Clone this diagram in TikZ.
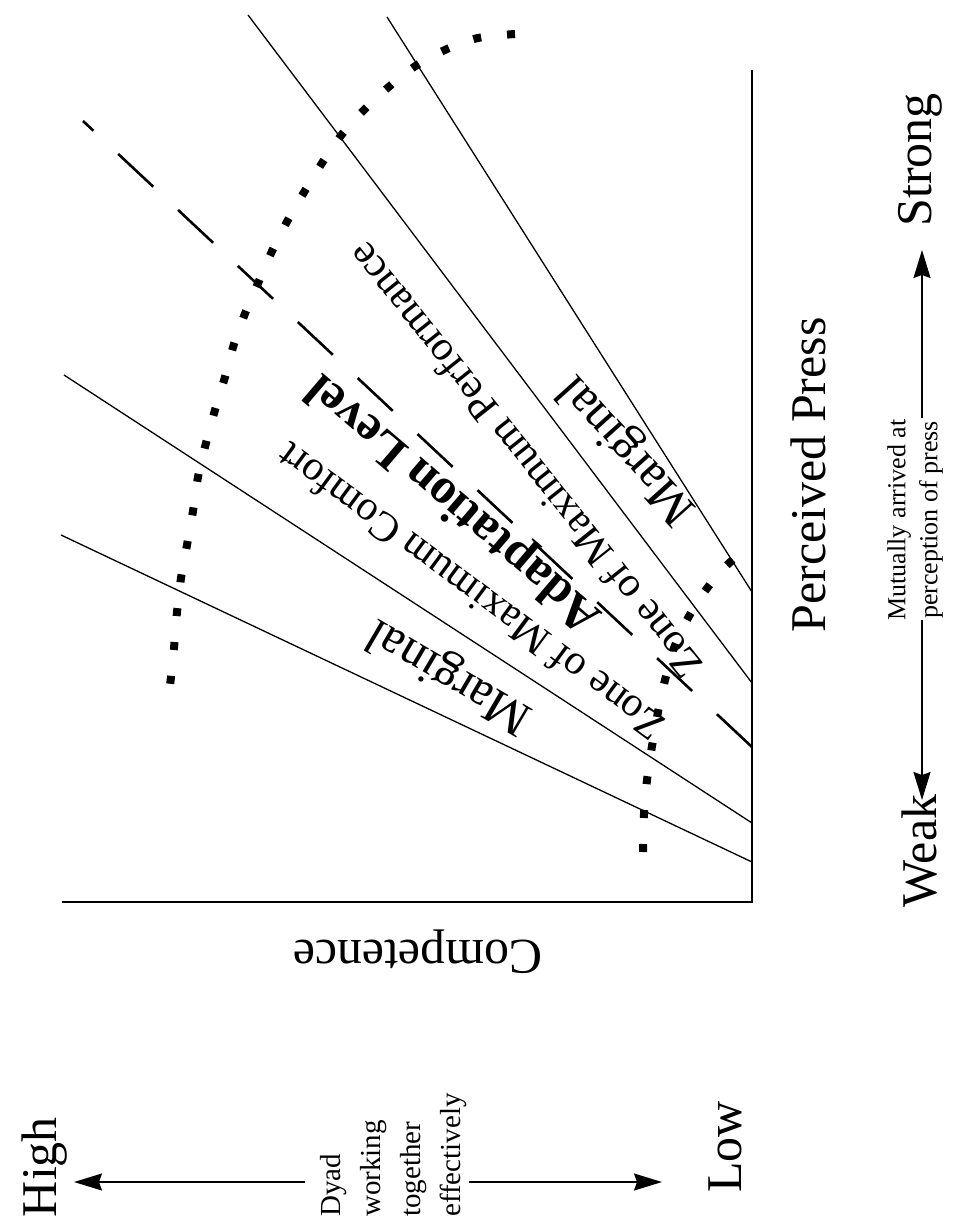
\documentclass[tikz,border=0pt]{standalone}
\usepackage{fontspec}
\setmainfont{Liberation Serif}
\usetikzlibrary{arrows.meta}
\begin{document}
\begin{tikzpicture}[x=1pt,y=-1pt,
  axis/.style={line width=1.6pt},
  zline/.style={line width=1.3pt},
  adline/.style={line width=2.6pt, dash pattern=on 48pt off 34pt},
  dotcurve/.style={line width=8pt, dash pattern=on 8pt off 26pt},
  bigl/.style={font=\fontsize{50}{60}\selectfont, inner sep=0pt},
  zonel/.style={font=\fontsize{42}{50}\selectfont, inner sep=0pt},
  margl/.style={font=\fontsize{50}{60}\selectfont, inner sep=0pt},
  adapl/.style={font=\fontsize{50}{60}\selectfont\bfseries, inner sep=0pt},
  smalll/.style={font=\fontsize{26}{32}\selectfont, inner sep=0pt, align=center},
  dyadl/.style={font=\fontsize{29}{40}\selectfont, inner sep=0pt, align=left},
  arr/.style={line width=1.6pt, -{Stealth[length=28pt,width=17pt,inset=3pt]}}
]
\useasboundingbox (0,0) rectangle (961,1222);
% axes
\coordinate (O) at (752,902);
\coordinate (Ytop) at (752,70);
\coordinate (Xend) at (62,902);
\draw[axis] (Ytop) -- (O) -- (Xend);
% zone boundary lines
\coordinate (A1) at (387,17);  \coordinate (A0) at (752,592);
\coordinate (B1) at (248,15);  \coordinate (B0) at (752,683);
\coordinate (C1) at (64,375);  \coordinate (C0) at (752,823);
\coordinate (D1) at (61,535);  \coordinate (D0) at (752,862);
\coordinate (L1) at (83,121);  \coordinate (L0) at (752,747);
\draw[zline] (A1) -- (A0);
\draw[zline] (B1) -- (B0);
\draw[zline] (C1) -- (C0);
\draw[zline] (D1) -- (D0);
\draw[adline] (L0) -- (L1);
% dotted curves
\draw[dotcurve] plot[smooth] coordinates {(515,34) (478,38) (447,49) (417,65) (391,85) (366,108) (343,133) (324,160) (306,189) (289,218) (273,249) (259,281) (246,311) (234,344) (225,377) (215,410) (206,443) (198,477) (193,511) (187,545) (181,578) (177,612) (174,648) (170,686)};
\draw[dotcurve] plot[smooth] coordinates {(643,852) (644,814) (647,780) (652,746) (658,712) (665,680) (674,648) (688,618) (705,591) (726,566) (752,544)};
% zone labels
\node[margl, rotate=132] (mu) at (628,449) {Marginal};
\node[zonel, rotate=128.5] (zp) at (524,461) {Zone of Maximum Performance};
\node[adapl, rotate=139.5] (al) at (455,502) {Adaptation Level};
\node[zonel, rotate=143.5] (zc) at (470,592) {Zone of Maximum Comfort};
\node[margl, rotate=149.6] (ml) at (450,675) {Marginal};
% axis labels
\node[bigl, rotate=90] (pp) at (808,475) {Perceived Press};
\node[bigl, rotate=180] (comp) at (418,952) {Competence};
% right scale
\node[bigl, rotate=90] (strong) at (920,160) {Strong};
\node[bigl, rotate=90] (weak) at (920,851) {Weak};
\node[smalll, rotate=90] (mut) at (915,520) {Mutually arrived at\\perception of press};
\coordinate (sa) at (922,418); \coordinate (st) at (922,250);
\coordinate (wa) at (922,620); \coordinate (wt) at (922,800);
\draw[arr] (sa) -- (st);
\draw[arr] (wa) -- (wt);
% bottom scale
\node[bigl, rotate=90] (high) at (45,1167) {High};
\node[bigl, rotate=90] (low) at (725,1147) {Low};
\node[dyadl, rotate=90] (dyad) at (394,1155) {Dyad\\working\\together\\effectively};
\coordinate (ha) at (305,1182); \coordinate (ht) at (74,1182);
\coordinate (la) at (469,1182); \coordinate (lt) at (662,1182);
\draw[arr] (ha) -- (ht);
\draw[arr] (la) -- (lt);
\end{tikzpicture}
\end{document}
